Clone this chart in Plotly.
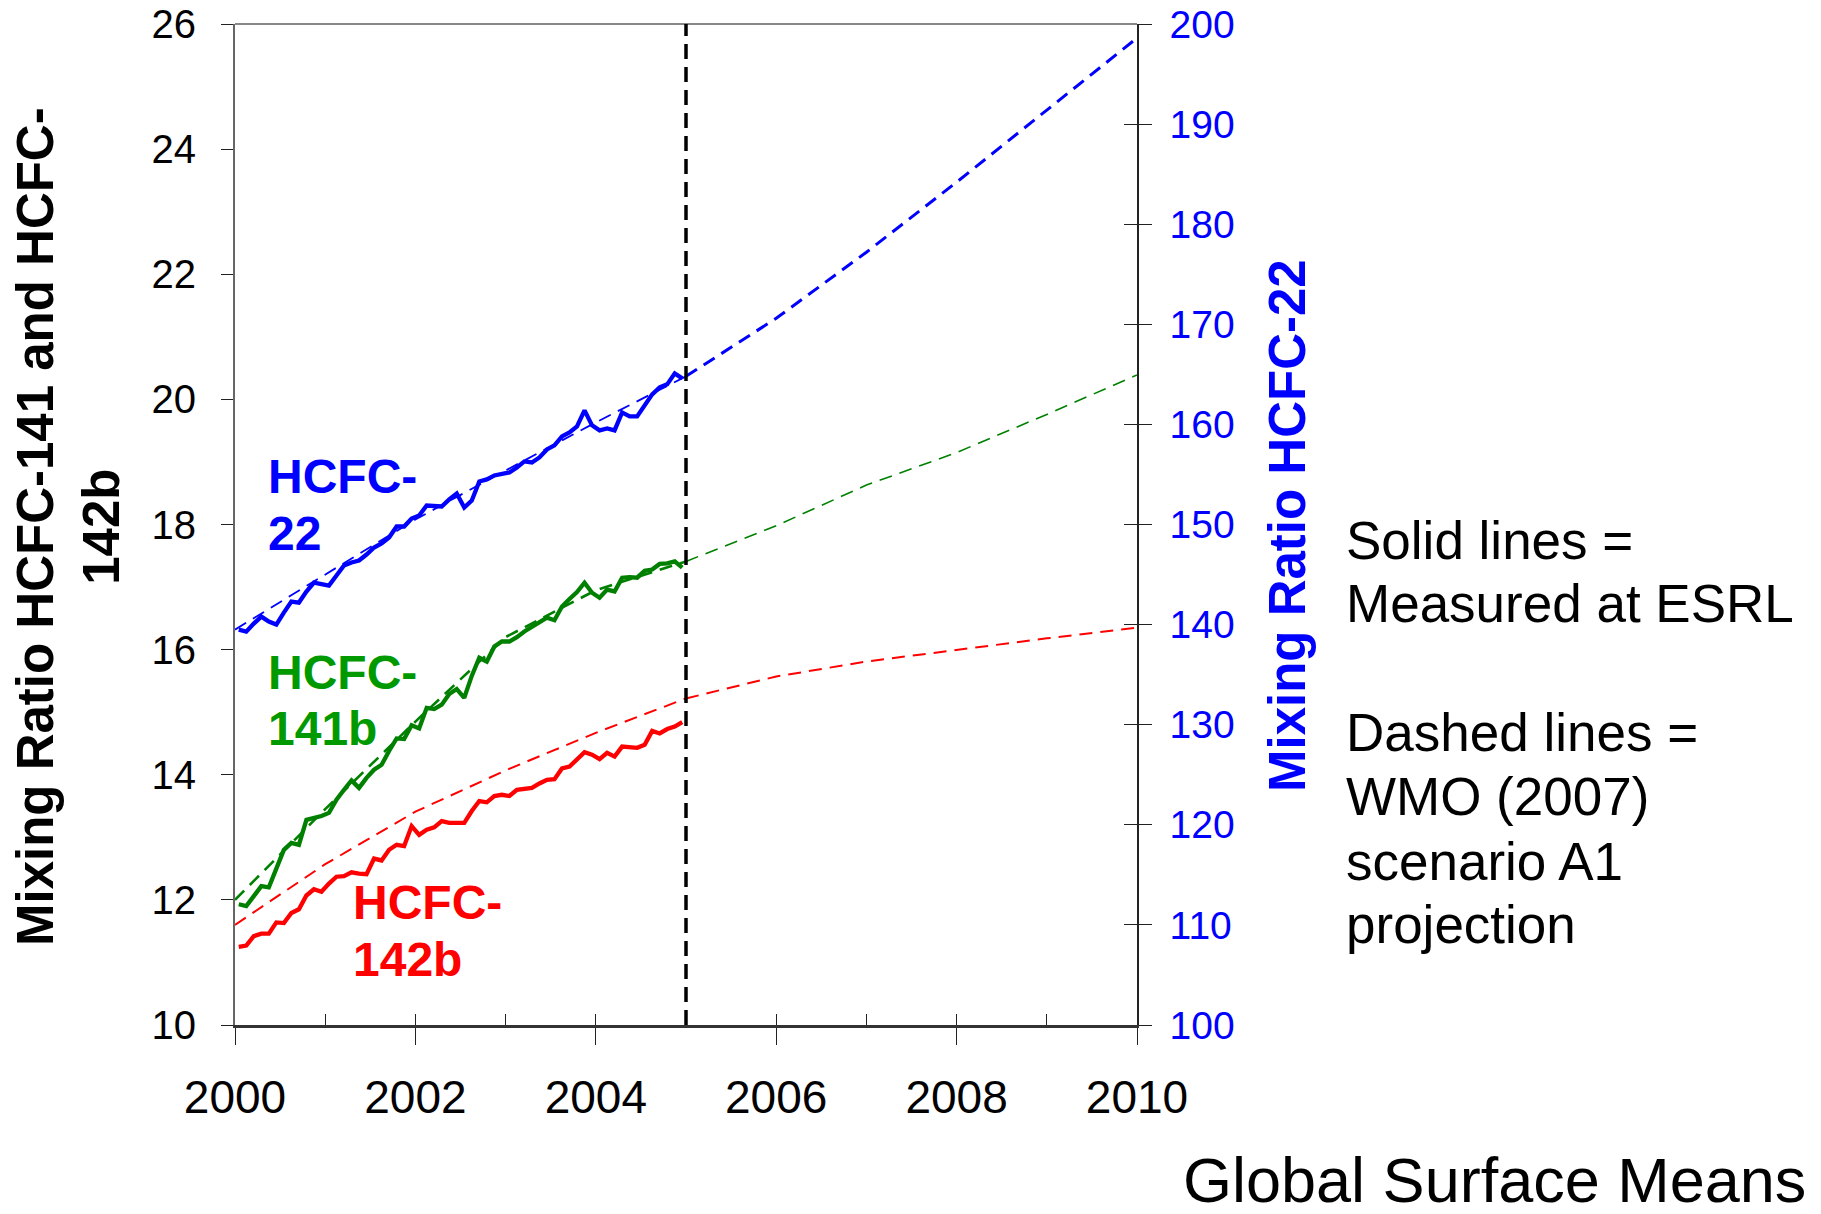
import numpy as np
import plotly.graph_objects as go

# ---------------- data ----------------
MONTHS = 2000 + (np.arange(60) + 0.5) / 12.0   # mid-month, Jan 2000 .. Dec 2004

HCFC22_MEAS = [139.5, 139.3, 140.1, 140.8, 140.3, 140.0, 141.2, 142.3, 142.2, 143.3, 144.2, 144.1,
               143.9, 144.9, 145.9, 146.2, 146.4, 147.0, 147.7, 148.1, 148.7, 149.8, 149.8, 150.6,
               150.9, 151.9, 151.8, 151.8, 152.5, 153.1, 151.7, 152.4, 154.3, 154.5, 154.9, 155.1,
               155.2, 155.7, 156.3, 156.2, 156.7, 157.5, 157.9, 158.8, 159.2, 159.8, 161.4, 159.9,
               159.4, 159.6, 159.4, 161.2, 160.8, 160.8, 162.0, 163.0, 163.7, 164.0, 165.1, 164.6]

HCFC141B_MEAS = [11.93, 11.90, 12.06, 12.22, 12.20, 12.50, 12.80, 12.91, 12.88, 13.28, 13.31, 13.34,
                 13.39, 13.60, 13.76, 13.91, 13.79, 13.95, 14.08, 14.16, 14.38, 14.58, 14.57, 14.79,
                 14.74, 15.07, 15.05, 15.12, 15.29, 15.37, 15.23, 15.58, 15.87, 15.81, 16.05, 16.13,
                 16.13, 16.20, 16.29, 16.36, 16.44, 16.51, 16.47, 16.69, 16.81, 16.92, 17.07, 16.91,
                 16.83, 16.96, 16.93, 17.15, 17.16, 17.15, 17.26, 17.28, 17.37, 17.38, 17.41, 17.31]

HCFC142B_MEAS = [11.25, 11.27, 11.42, 11.46, 11.46, 11.64, 11.63, 11.79, 11.85, 12.07, 12.17, 12.13,
                 12.26, 12.37, 12.38, 12.44, 12.42, 12.41, 12.66, 12.63, 12.80, 12.88, 12.86, 13.18,
                 13.04, 13.12, 13.16, 13.26, 13.23, 13.23, 13.23, 13.42, 13.58, 13.56, 13.66, 13.68,
                 13.66, 13.76, 13.78, 13.79, 13.86, 13.92, 13.93, 14.10, 14.13, 14.24, 14.36, 14.32,
                 14.25, 14.35, 14.29, 14.45, 14.44, 14.43, 14.48, 14.70, 14.66, 14.73, 14.77, 14.84]

YEARS = [2000, 2001, 2002, 2003, 2004, 2005, 2006, 2007, 2008, 2009, 2010]
WMO_22 = [139.5, 145.0, 150.5, 155.4, 160.2, 164.8, 170.6, 177.2, 184.2, 191.4, 198.6]
WMO_141B = [12.0, 13.45, 14.85, 16.2, 16.95, 17.41, 17.98, 18.63, 19.15, 19.76, 20.39]
WMO_142B = [11.6, 12.57, 13.41, 14.07, 14.67, 15.22, 15.57, 15.81, 16.0, 16.18, 16.35]

DIVIDER_YEAR = 2005
SPLIT = YEARS.index(DIVIDER_YEAR)

X_TICKS = [2000, 2002, 2004, 2006, 2008, 2010]
X_MINOR = list(range(2000, 2011))
Y_LEFT_TICKS = [10, 12, 14, 16, 18, 20, 22, 24, 26]
Y_RIGHT_TICKS = [100, 110, 120, 130, 140, 150, 160, 170, 180, 190, 200]

# ---------------- styling ----------------
FONT = "Liberation Sans, Arial, sans-serif"
BLUE = "#0000FF"
GREEN = "#008000"
GREEN_TXT = "#009900"
RED = "#FF0000"

W, H = 1821, 1214
L, R, T, B = 235, 684, 24, 189
PW, PH = W - L - R, H - T - B


def px(x):
    return (x - L) / PW


def py(y):
    return (H - B - y) / PH


fig = go.Figure()

DASH = "13px,8px"
# projections (dashed), split at divider for different stroke widths
fig.add_trace(go.Scatter(x=YEARS[:SPLIT + 1], y=WMO_22[:SPLIT + 1], yaxis="y2", mode="lines",
                         line=dict(color=BLUE, width=1.8, dash=DASH)))
fig.add_trace(go.Scatter(x=YEARS[SPLIT:], y=WMO_22[SPLIT:], yaxis="y2", mode="lines",
                         line=dict(color=BLUE, width=3, dash=DASH)))
fig.add_trace(go.Scatter(x=YEARS[:SPLIT + 1], y=WMO_141B[:SPLIT + 1], mode="lines",
                         line=dict(color=GREEN, width=2.6, dash=DASH)))
fig.add_trace(go.Scatter(x=YEARS[SPLIT:], y=WMO_141B[SPLIT:], mode="lines",
                         line=dict(color=GREEN, width=1.6, dash=DASH)))
fig.add_trace(go.Scatter(x=YEARS[:SPLIT + 1], y=WMO_142B[:SPLIT + 1], mode="lines",
                         line=dict(color=RED, width=2, dash=DASH)))
fig.add_trace(go.Scatter(x=YEARS[SPLIT:], y=WMO_142B[SPLIT:], mode="lines",
                         line=dict(color=RED, width=2, dash=DASH)))

# measurements (solid)
fig.add_trace(go.Scatter(x=MONTHS, y=HCFC22_MEAS, yaxis="y2", mode="lines",
                         line=dict(color=BLUE, width=4.3)))
fig.add_trace(go.Scatter(x=MONTHS, y=HCFC141B_MEAS, mode="lines",
                         line=dict(color=GREEN, width=4.3)))
fig.add_trace(go.Scatter(x=MONTHS, y=HCFC142B_MEAS, mode="lines",
                         line=dict(color=RED, width=4.3)))

# empty traces to register the overlay axes used for inside ticks
fig.add_trace(go.Scatter(x=[], y=[], xaxis="x3", yaxis="y", hoverinfo="skip"))
fig.add_trace(go.Scatter(x=[], y=[], xaxis="x", yaxis="y3", hoverinfo="skip"))

fig.update_traces(showlegend=False)

fig.update_layout(
    width=W, height=H,
    margin=dict(l=L, r=R, t=T, b=B, pad=0, autoexpand=False),
    paper_bgcolor="white", plot_bgcolor="white",
    showlegend=False,
    xaxis=dict(range=[2000, 2010], tickvals=X_TICKS, ticktext=[str(v) for v in X_TICKS],
               ticks="outside", ticklen=17, tickwidth=1.2, tickcolor="#222",
               showline=True, linecolor="#333", linewidth=2.5, mirror=False,
               showgrid=False, zeroline=False, automargin=False,
               tickfont=dict(family=FONT, size=46, color="black"), ticklabelstandoff=13),
    xaxis3=dict(range=[2000, 2010], overlaying="x", anchor="y", tickvals=X_MINOR,
                ticks="inside", ticklen=11, tickwidth=1.2, tickcolor="#222", automargin=False,
                showticklabels=False, showgrid=False, zeroline=False, showline=False),
    yaxis=dict(range=[10, 26], tickvals=Y_LEFT_TICKS, ticks="outside", ticklen=12,
               tickwidth=1.2, tickcolor="#222", showline=True, linecolor="#666",
               linewidth=2, showgrid=False, zeroline=False, automargin=False,
               tickfont=dict(family=FONT, size=40, color="black"), ticklabelstandoff=17),
    yaxis2=dict(range=[100, 200], tickvals=Y_RIGHT_TICKS, overlaying="y", side="right",
                anchor="x", ticks="outside", ticklen=13, tickwidth=1.2, tickcolor="#222",
                showline=True, linecolor="#222", linewidth=1.6, showgrid=False,
                zeroline=False, automargin=False,
                tickfont=dict(family=FONT, size=39, color=BLUE), ticklabelstandoff=10),
    yaxis3=dict(range=[100, 200], tickvals=Y_RIGHT_TICKS, overlaying="y", side="right",
                anchor="x", ticks="inside", ticklen=13, tickwidth=1.2, tickcolor="#222",
                automargin=False,
                showticklabels=False, showgrid=False, zeroline=False, showline=False),
)

# top frame line and 2005 divider
fig.add_shape(type="line", xref="paper", yref="paper", x0=0, x1=1, y0=1, y1=1,
              line=dict(color="#888", width=2))
fig.add_shape(type="line", xref="x", yref="paper", x0=DIVIDER_YEAR, x1=DIVIDER_YEAR, y0=0, y1=1,
              line=dict(color="black", width=3.5, dash="15px,8px"))


def note(text, x, y, size, color="black", bold=False, xanchor="left", angle=0):
    t = f"<b>{text}</b>" if bold else text
    fig.add_annotation(text=t, xref="paper", yref="paper", x=px(x), y=py(y),
                       xanchor=xanchor, yanchor="middle", showarrow=False, textangle=angle,
                       font=dict(family=FONT, size=size, color=color))


# axis titles
note("Mixing Ratio HCFC-141 and HCFC-<br>142b", 68, 527, 51, bold=True, xanchor="center", angle=-90)
note("Mixing Ratio HCFC-22", 1287, 526, 51, color=BLUE, bold=True, xanchor="center", angle=-90)

# series labels
note("HCFC-", 266, 476, 48, BLUE, True)
note("22", 266, 533, 48, BLUE, True)
note("HCFC-", 266, 672, 48, GREEN_TXT, True)
note("141b", 266, 728, 48, GREEN_TXT, True)
note("HCFC-", 351, 902, 48, RED, True)
note("142b", 351, 959, 48, RED, True)

# explanation text
for txt, yy in [("Solid lines =", 540), ("Measured at ESRL", 604), ("Dashed lines =", 732),
                ("WMO (2007)", 796), ("scenario A1", 861), ("projection", 924)]:
    note(txt, 1344, yy, 53)

note("Global Surface Means", 1808, 1180, 63, xanchor="right")

fig.write_html("out.html", config={"displayModeBar": False},
               post_script="document.body.style.margin='0';document.body.style.overflow='hidden';")
